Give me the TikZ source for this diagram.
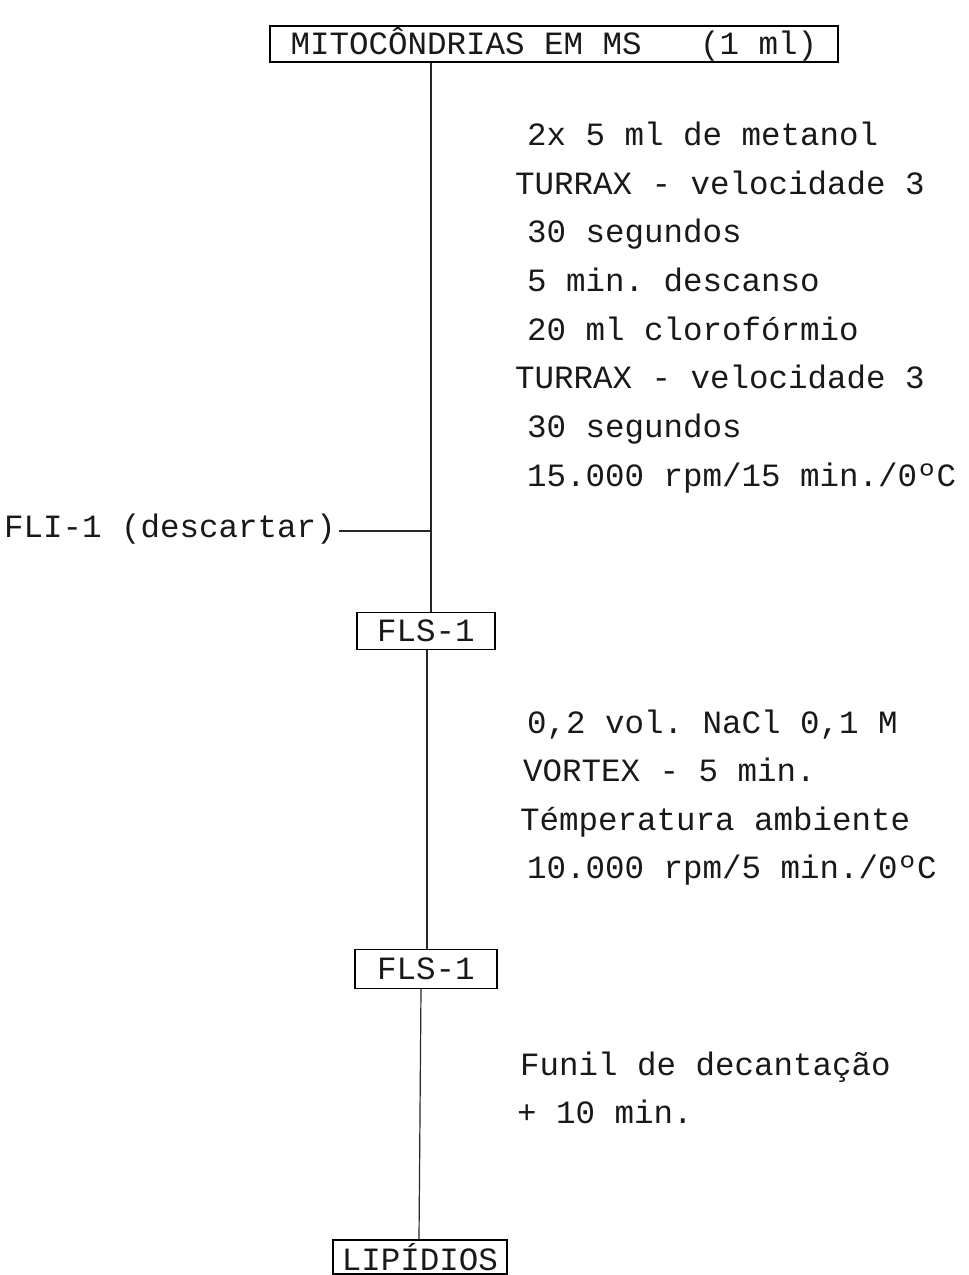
\documentclass[tikz,border=0pt]{standalone}
\usepackage{fontspec}
\setmainfont{Liberation Mono}
\frenchspacing
\begin{document}
\begin{tikzpicture}[x=1pt,y=-1pt,
  every node/.style={font=\fontsize{32.5}{39}\selectfont, text=black!90, inner sep=0pt},
  box/.style={draw, line width=1.2pt},
  conn/.style={line width=1.2pt, black!85},
  txt/.style={anchor=base west}]
\useasboundingbox (0,0) rectangle (969,1275);
% boxes
\node[box, minimum width=568pt, minimum height=36pt] (top) at (554,44) {MITOCÔNDRIAS EM MS~~~(1 ml)};
\node[box, minimum width=138pt, minimum height=37pt] (fls1) at (426,631) {FLS-1};
\node[box, minimum width=142pt, minimum height=39pt] (fls2) at (426,969) {FLS-1};
\node[box, minimum width=174pt, minimum height=34pt] (lip) at (420,1257) {LIPÍDIOS};
% side product
\node[anchor=base east] (fli) at (336,537) {FLI-1 (descartar)};
\coordinate (j) at (431,531);
% connectors
\draw[conn] (top.south -| j) -- (j) -- (j |- fls1.north);
\draw[conn] ([xshift=3pt]fli.east |- j) -- (j);
\draw[conn] ([xshift=1pt]fls1.south) -- ([xshift=1pt]fls2.north);
\draw[conn] ([xshift=-5pt]fls2.south) -- ([xshift=-1pt]lip.north);
% step block 1
\node[txt] (a1) at (527,145) {2x 5 ml de metanol};
\node[txt] (a2) at (515,194) {TURRAX - velocidade 3};
\node[txt] (a3) at (527,242) {30 segundos};
\node[txt] (a4) at (527,291) {5 min. descanso};
\node[txt] (a5) at (527,340) {20 ml clorofórmio};
\node[txt] (a6) at (515,388) {TURRAX - velocidade 3};
\node[txt] (a7) at (527,437) {30 segundos};
\node[txt] (a8) at (527,486) {15.000 rpm/15 min./0ºC};
% step block 2
\node[txt] (b1) at (527,733) {0,2 vol. NaCl 0,1 M};
\node[txt] (b2) at (523,781) {VORTEX - 5 min.};
\node[txt] (b3) at (520,830) {Témperatura ambiente};
\node[txt] (b4) at (527,878) {10.000 rpm/5 min./0ºC};
% step block 3
\node[txt] (c1) at (520,1075) {Funil de decantação};
\node[txt] (c2) at (517,1123) {+ 10 min.};
\end{tikzpicture}
\end{document}
